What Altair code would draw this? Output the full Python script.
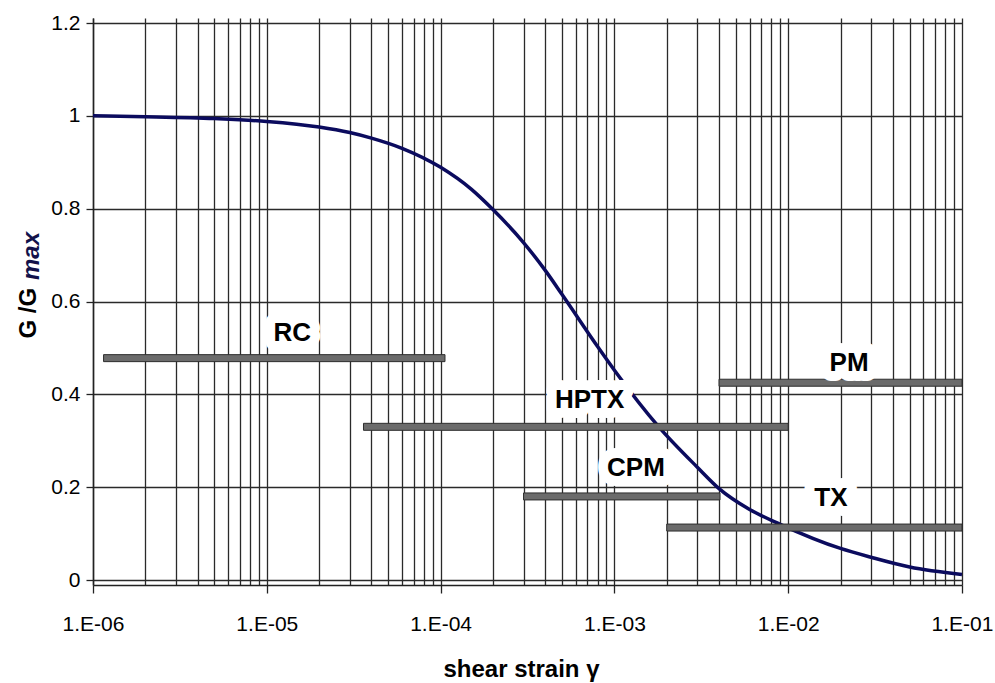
import altair as alt
import pandas as pd

# G/Gmax degradation curve
strain = [1e-6, 2e-6, 5e-6, 1e-5, 2e-5, 3e-5, 4e-5, 6e-5, 1e-4, 1.5e-4, 2e-4, 3e-4, 4e-4, 5e-4, 8e-4,
          1e-3, 1.8e-3, 3e-3, 4e-3, 6e-3, 9e-3, 2e-2, 3e-2, 5e-2, 1e-1]
ratio = [1.0, 0.998, 0.994, 0.988, 0.976, 0.964, 0.952, 0.930, 0.889, 0.842, 0.798, 0.727, 0.667, 0.615, 0.503,
         0.452, 0.330, 0.243, 0.197, 0.152, 0.120, 0.068, 0.049, 0.028, 0.012]

# test ranges
tests = ["RC", "HPTX", "CPM", "PM", "TX"]
range_start = [1.15e-6, 3.6e-5, 3.0e-4, 4.0e-3, 2.0e-3]
range_end = [1.06e-4, 1.0e-2, 4.05e-3, 1.0e-1, 1.0e-1]
range_level = [0.478, 0.330, 0.180, 0.425, 0.113]
label_x = [1.40e-5, 7.2e-4, 1.33e-3, 2.24e-2, 1.76e-2]
label_y = [0.533, 0.387, 0.241, 0.468, 0.176]

grid_values = [k * 10.0 ** n for n in range(-6, -1) for k in range(1, 10)] + [1e-1]
y_values = [0, 0.2, 0.4, 0.6, 0.8, 1.0, 1.2]

curve_df = pd.DataFrame({"strain": strain, "ratio": ratio})
range_df = pd.DataFrame({"test": tests, "start": range_start, "end": range_end,
                         "level": range_level, "lx": label_x, "ly": label_y})

FONT = "Liberation Sans"
dec_test = "abs(log(datum.value)/LN10 - round(log(datum.value)/LN10)) < 1e-6"

x_scale = alt.Scale(type="log", domain=[1e-6, 1e-1], nice=False)
y_scale = alt.Scale(domain=[0, 1.2], nice=False)

x_axis = alt.Axis(
    values=grid_values,
    labelExpr=f"({dec_test}) ? '1.E-0' + abs(round(log(datum.value)/LN10)) : ''",
    labelFlush=False, labelOverlap=False,
    labelFont=FONT, labelFontSize=21, labelColor="#000", labelPadding=20,
    tickSize=8, tickWidth=1.3,
    tickColor={"condition": {"test": dec_test, "value": "#222"}, "value": "rgba(0,0,0,0)"},
    grid=True, gridColor="#2a2a2a", gridWidth=1.3,
    domainColor="#222", domainWidth=1.5,
    title="shear strain γ", titleFont=FONT, titleFontSize=24, titleFontWeight="bold",
    titleColor="#000", titleBaseline="alphabetic", titleY=91, titleX=428,
)
y_axis = alt.Axis(
    values=y_values, format="~g",
    labelFont=FONT, labelFontSize=21, labelColor="#000", labelPadding=6,
    tickSize=7, tickWidth=1.3, tickColor="#222",
    grid=True, gridColor="#2a2a2a", gridWidth=1.3,
    domainColor="#222", domainWidth=1.5,
    title="G /G", titleFont=FONT, titleFontSize=24, titleFontWeight="bold", titleColor="#000",
    titleAngle=270, titleAlign="left", titleBaseline="alphabetic", titleX=-58, titleY=320,
)

curve = alt.Chart(curve_df).mark_line(
    color="#0b0b5e", strokeWidth=3.5, interpolate="monotone"
).encode(
    x=alt.X("strain:Q", scale=x_scale, axis=x_axis),
    y=alt.Y("ratio:Q", scale=y_scale, axis=y_axis),
)

bars = alt.Chart(range_df).mark_bar(
    size=7, color="#6b6b6b", stroke="#2e2e2e", strokeWidth=1
).encode(
    x=alt.X("start:Q", scale=x_scale),
    x2="end:Q",
    y=alt.Y("level:Q", scale=y_scale),
)

halo = alt.Chart(range_df).mark_text(
    font=FONT, fontSize=26, fontWeight="bold", color="white", stroke="white",
    strokeWidth=20, strokeJoin="round", strokeCap="round", baseline="middle", align="center"
).encode(
    x=alt.X("lx:Q", scale=x_scale), y=alt.Y("ly:Q", scale=y_scale), text="test:N"
)

labels = alt.Chart(range_df).mark_text(
    font=FONT, fontSize=26, fontWeight="bold", color="#000",
    baseline="middle", align="center"
).encode(
    x=alt.X("lx:Q", scale=x_scale), y=alt.Y("ly:Q", scale=y_scale), text="test:N"
)

sub = alt.Chart(pd.DataFrame({"t": ["max"]})).mark_text(
    font=FONT, fontSize=24, fontWeight="bold", fontStyle="italic", color="#12124a",
    angle=270, align="left", baseline="alphabetic"
).encode(
    x=alt.value(-54), y=alt.value(262), text="t:N"
)

chart = alt.layer(curve, bars, halo, labels, sub).properties(
    width=869, height=567,
    padding={"left": 93, "top": 18, "right": 33, "bottom": 98},
    autosize=alt.AutoSizeParams(type="none"),
    background="white",
).configure_view(stroke=None)

chart.save("out.html", embed_options={"renderer": "svg", "actions": False})
